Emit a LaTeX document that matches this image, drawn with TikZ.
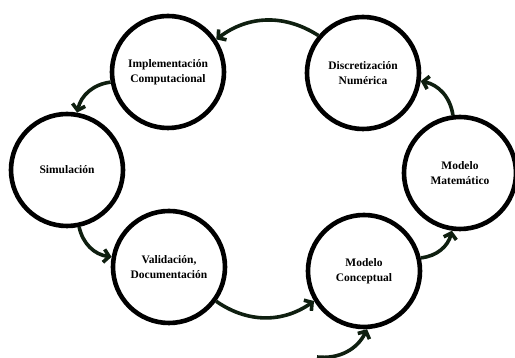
\documentclass[tikz,border=0pt]{standalone}
\usepackage{fontspec}
\setmainfont{Liberation Serif}
\usetikzlibrary{arrows.meta}
\definecolor{c1}{HTML}{000000}
\definecolor{c2}{HTML}{0F1F10}

\begin{document}
\begin{tikzpicture}[
    x=1pt, y=1pt,
    stage/.style={circle, draw=c1, line width=4.6pt, minimum size=112pt, inner sep=0pt,
                  align=center, font=\fontsize{11.5}{15.5}\selectfont\bfseries},
    flow/.style={draw=c2, line width=3.6pt, -{Straight Barb[length=5.5pt, width=13pt]}},
]
\useasboundingbox (0,0) rectangle (515,358);

% the six stages, laid out on a ring
\node[stage] (impl) at (168, 286) {Implementación\\Computacional};
\node[stage] (disc) at (363, 285) {Discretización\\Numérica};
\node[stage] (sim)  at ( 67, 188) {Simulación};
\node[stage] (mat)  at (460, 185) {Modelo\\Matemático};
\node[stage] (val)  at (169,  91) {Validación,\\Documentación};
\node[stage] (conc) at (364,  87) {Modelo\\Conceptual};

% the way in, from below
\coordinate (start) at (317, 1);

\draw[flow] (start)    to[bend right=35] (conc.273);
\draw[flow] (conc.13)  to[bend right=35] (mat.262);
\draw[flow] (mat.97)   to[bend right=35] (disc.352);
\draw[flow] (disc.140) to[bend right=35] (impl.34);
\draw[flow] (impl.190) to[bend right=35] (sim.80);
\draw[flow] (sim.282)  to[bend right=35] (val.170);
\draw[flow] (val.324)  to[bend right=35] (conc.211);
\end{tikzpicture}
\end{document}
